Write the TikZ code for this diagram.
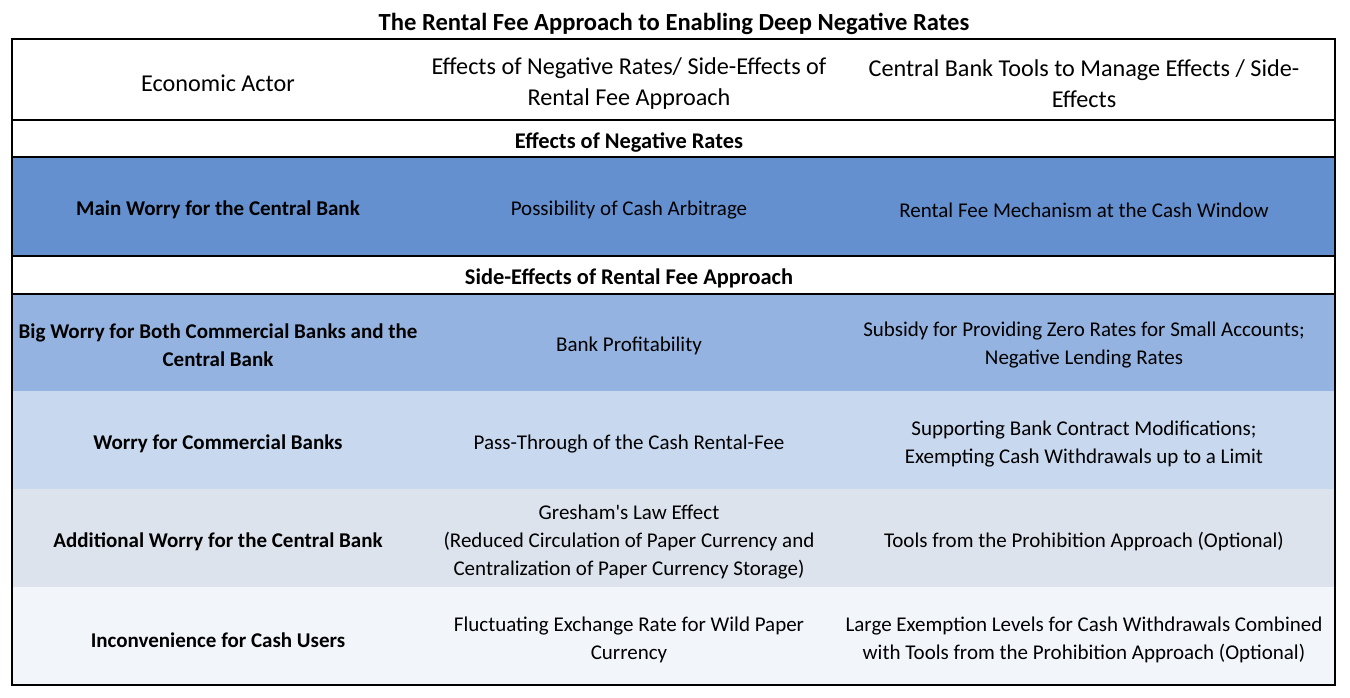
\documentclass[tikz,border=0pt]{standalone}
\usepackage{fontspec}
\setmainfont{Carlito}[Ligatures=TeXOff]
\usepackage{xcolor}
\usepackage{tikz}
\definecolor{ink}{HTML}{000000}
\definecolor{rowmain}{HTML}{6490D0}
\definecolor{rowbig}{HTML}{95B3E0}
\definecolor{rowbank}{HTML}{C7D8EF}
\definecolor{rowadd}{HTML}{DCE3EC}
\definecolor{rowuser}{HTML}{F2F5FA}
\tikzset{
  frame/.style={draw=ink, line width=1.8pt},
  rule/.style={draw=ink, line width=1.5pt},
  cell/.style={text=ink, align=center, inner sep=0pt, font=\fontsize{21}{28}\selectfont},
  cellb/.style={cell, font=\fontsize{21}{28}\selectfont\bfseries},
  secb/.style={cell, font=\fontsize{22.4}{28}\selectfont\bfseries},
  titleb/.style={cell, font=\fontsize{24.6}{30}\selectfont\bfseries},
  head/.style={cell, font=\fontsize{24.2}{31}\selectfont},
}

\begin{document}
\begin{tikzpicture}[x=1pt, y=-1pt]
  \useasboundingbox (0,0) rectangle (1350,698);
  \fill[white] (0,0) rectangle (1350,698);
  \def\xl{12}
  \def\xr{1335}
  \def\ca{218}
  \def\cb{629}
  \def\cc{1084}

  % row shading
  \fill[rowmain] (\xl,158) rectangle (\xr,256);
  \fill[rowbig]  (\xl,294) rectangle (\xr,391);
  \fill[rowbank] (\xl,391) rectangle (\xr,489);
  \fill[rowadd]  (\xl,489) rectangle (\xr,587);
  \fill[rowuser] (\xl,587) rectangle (\xr,685);

  \draw[rule] (\xl,120) -- (\xr,120);
  \draw[rule] (\xl,157) -- (\xr,157);
  \draw[rule] (\xl,256) -- (\xr,256);
  \draw[rule] (\xl,294) -- (\xr,294);
  \draw[frame] (\xl,39) rectangle (\xr,685);

  \node[titleb] (title) at (674,24) {The Rental Fee Approach to Enabling Deep Negative Rates};

  % header
  \node[head] (hact)  at (\ca,83) {Economic Actor};
  \node[head] (heff)  at (\cb,84) {Effects of Negative Rates/ Side-Effects of\\Rental Fee Approach};
  \node[head] (htool) at (\cc,84) {Central Bank Tools to Manage Effects / Side-\\Effects};

  \node[secb] (sec1) at (\cb,143) {Effects of Negative Rates};
  \node[secb] (sec2) at (\cb,278) {Side-Effects of Rental Fee Approach};

  % main worry
  \node[cellb] (act1)  at (\ca,210) {Main Worry for the Central Bank};
  \node[cell]  (eff1)  at (\cb,210) {Possibility of Cash Arbitrage};
  \node[cell]  (tool1) at (\cc,210) {Rental Fee Mechanism at the Cash Window};

  % big worry
  \node[cellb] (act2)  at (\ca,345) {Big Worry for Both Commercial Banks and the\\Central Bank};
  \node[cell]  (eff2)  at (\cb,346) {Bank Profitability};
  \node[cell]  (tool2) at (\cc,345) {Subsidy for Providing Zero Rates for Small Accounts;\\Negative Lending Rates};

  % commercial banks
  \node[cellb] (act3)  at (\ca,444) {Worry for Commercial Banks};
  \node[cell]  (eff3)  at (\cb,444) {Pass-Through of the Cash Rental-Fee};
  \node[cell]  (tool3) at (\cc,444) {Supporting Bank Contract Modifications;\\Exempting Cash Withdrawals up to a Limit};

  % additional worry
  \node[cellb] (act4)  at (\ca,542) {Additional Worry for the Central Bank};
  \node[cell]  (eff4)  at (\cb,542) {Gresham's Law Effect\\(Reduced Circulation of Paper Currency and\\Centralization of Paper Currency Storage)};
  \node[cell]  (tool4) at (\cc,542) {Tools from the Prohibition Approach (Optional)};

  % cash users
  \node[cellb] (act5)  at (\ca,640) {Inconvenience for Cash Users};
  \node[cell]  (eff5)  at (\cb,640) {Fluctuating Exchange Rate for Wild Paper\\Currency};
  \node[cell]  (tool5) at (\cc,640) {Large Exemption Levels for Cash Withdrawals Combined\\with Tools from the Prohibition Approach (Optional)};
\end{tikzpicture}
\end{document}
